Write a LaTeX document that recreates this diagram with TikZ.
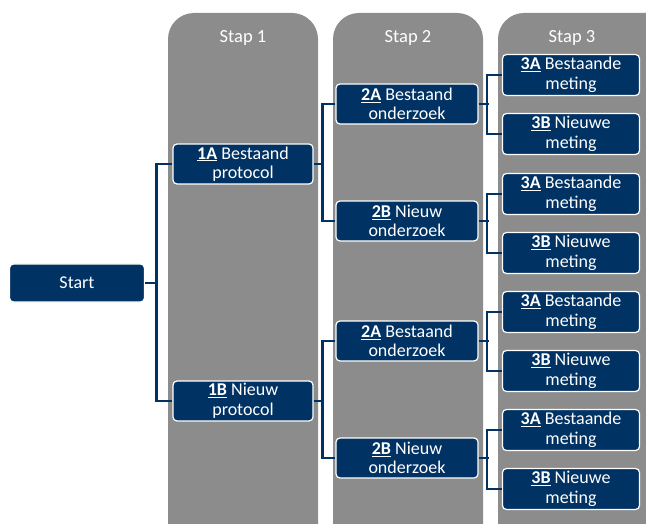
\documentclass[tikz,border=0pt]{standalone}
\usepackage{fontspec}
\setmainfont{Carlito}
\definecolor{navy}{RGB}{0,50,100}
\definecolor{colgray}{RGB}{140,140,140}
\begin{document}
\begin{tikzpicture}[x=1pt,y=-1pt,
  col/.style={fill=colgray,draw=none,rounded corners=26pt},
  box/.style={fill=navy,draw=white,line width=1.2pt,rounded corners=4pt,text=white,
    minimum width=140pt,minimum height=40pt,align=center,inner sep=0pt,
    font=\fontsize{18}{19.5}\selectfont},
  box3/.style={box,minimum width=137pt,minimum height=41pt},
  hdr/.style={text=white,font=\fontsize{18.5}{20}\selectfont},
  conn/.style={draw=navy,line width=2.2pt}]
\useasboundingbox (0,0) rectangle (646,524);
\begin{scope}
\clip (0,0) rectangle (646,524);
\fill[col] (168,13) rectangle (318,560);
\fill[col] (333,13) rectangle (483,560);
\fill[col] (498,13) rectangle (680,560);
\end{scope}
\node[hdr] (h1) at (243,38) {Stap 1};
\node[hdr] (h2) at (408,38) {Stap 2};
\node[hdr] (h3) at (572,38) {Stap 3};

\node[box,minimum width=135pt,minimum height=38pt] (start) at (77,283) {Start};
\node[box] (a1) at (243,164) {\textbf{\underline{1A}} Bestaand\\protocol};
\node[box] (b1) at (243,401) {\textbf{\underline{1B}} Nieuw\\protocol};

\node[box,minimum width=142pt] (a2a) at (407,104) {\textbf{\underline{2A}} Bestaand\\onderzoek};
\node[box,minimum width=142pt] (a2b) at (407,221) {\textbf{\underline{2B}} Nieuw\\onderzoek};
\node[box,minimum width=142pt] (b2a) at (407,341) {\textbf{\underline{2A}} Bestaand\\onderzoek};
\node[box,minimum width=142pt] (b2b) at (407,458) {\textbf{\underline{2B}} Nieuw\\onderzoek};

\node[box3] (c1) at (571,75) {\textbf{\underline{3A}} Bestaande\\meting};
\node[box3] (c2) at (571,134) {\textbf{\underline{3B}} Nieuwe\\meting};
\node[box3] (c3) at (571,194) {\textbf{\underline{3A}} Bestaande\\meting};
\node[box3] (c4) at (571,253) {\textbf{\underline{3B}} Nieuwe\\meting};
\node[box3] (c5) at (571,312) {\textbf{\underline{3A}} Bestaande\\meting};
\node[box3] (c6) at (571,371) {\textbf{\underline{3B}} Nieuwe\\meting};
\node[box3] (c7) at (571,430) {\textbf{\underline{3A}} Bestaande\\meting};
\node[box3] (c8) at (571,489) {\textbf{\underline{3B}} Nieuwe\\meting};

% connectors
\draw[conn] (start.east) -- ++(12,0) coordinate (j0);
\draw[conn] (a1.west) -- ++(-16,0) |- (b1.west);
\draw[conn] (a1.east) -- ++(10,0) coordinate (j1);
\draw[conn] (a2a.west) -- ++(-13,0) |- (a2b.west);
\draw[conn] (b1.east) -- ++(10,0) coordinate (j2);
\draw[conn] (b2a.west) -- ++(-13,0) |- (b2b.west);
\draw[conn] (a2a.east) -- ++(10,0);
\draw[conn] (c1.west) -- ++(-15,0) |- (c2.west);
\draw[conn] (a2b.east) -- ++(10,0);
\draw[conn] (c3.west) -- ++(-15,0) |- (c4.west);
\draw[conn] (b2a.east) -- ++(10,0);
\draw[conn] (c5.west) -- ++(-15,0) |- (c6.west);
\draw[conn] (b2b.east) -- ++(10,0);
\draw[conn] (c7.west) -- ++(-15,0) |- (c8.west);
\end{tikzpicture}
\end{document}
